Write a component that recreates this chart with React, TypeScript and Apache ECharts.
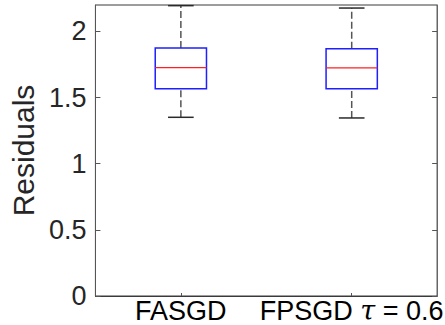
import React, { useEffect, useRef } from "react";
import * as echarts from "echarts";

const categories = ["FASGD", "FPSGD τ = 0.6"];
const lowerWhisker = [1.351, 1.346];
const q1 = [1.566, 1.566];
const median = [1.727, 1.725];
const q3 = [1.874, 1.869];
const upperWhisker = [2.195, 2.177];
const yTicks = [0, 0.5, 1, 1.5, 2];

const FONT = "'Liberation Sans', Arial, Helvetica, sans-serif";

export default function App() {
  const ref = useRef<HTMLDivElement>(null);
  useEffect(() => {
    document.body.style.margin = "0";
    const chart = echarts.init(ref.current!, null, { renderer: "svg" });
    const data = categories.map((_, i) => [i, lowerWhisker[i], q1[i], median[i], q3[i], upperWhisker[i]]);
    chart.setOption({
      animation: false,
      backgroundColor: "#ffffff",
      grid: { left: 91, right: 6, top: 5, bottom: 29, show: true, borderColor: "#3a3a3a", borderWidth: 1, backgroundColor: "transparent" },
      xAxis: {
        type: "category",
        data: categories,
        boundaryGap: true,
        axisLine: { show: true, lineStyle: { color: "#3a3a3a", width: 1 } },
        axisTick: { show: true, inside: true, alignWithLabel: true, length: 3, lineStyle: { color: "#555" } },
        axisLabel: {
          fontSize: 27,
          color: "#000",
          fontFamily: FONT,
          margin: 1,
          interval: 0,
          formatter: (v: string) => v.replace("τ", "{t|τ}"),
          rich: { t: { fontSize: 27, fontStyle: "italic", fontFamily: "'DejaVu Serif', serif", color: "#000" } },
        },
        splitLine: { show: false },
      },
      yAxis: [
        {
          type: "value",
          min: 0,
          max: 2.2,
          interval: 0.5,
          name: "Residuals",
          nameLocation: "middle",
          nameGap: 52,
          nameTextStyle: { fontSize: 30, color: "#262626", fontFamily: FONT },
          axisLine: { show: true, lineStyle: { color: "#555", width: 1 } },
          axisTick: { show: true, inside: true, length: 5, lineStyle: { color: "#555" }, customValues: yTicks },
          axisLabel: {
            fontSize: 27,
            color: "#262626",
            fontFamily: FONT,
            margin: 9,
            customValues: yTicks,
            formatter: (v: number) => String(v),
          },
          splitLine: { show: false },
        },
        {
          type: "value",
          position: "right",
          min: 0,
          max: 2.2,
          interval: 0.5,
          axisLine: { show: true, lineStyle: { color: "#666", width: 1 } },
          axisTick: { show: true, inside: true, length: 5, lineStyle: { color: "#555" }, customValues: yTicks },
          axisLabel: { show: false },
          splitLine: { show: false },
        },
      ],
      series: [
        {
          type: "custom",
          data,
          encode: { x: 0, y: [1, 2, 3, 4, 5] },
          renderItem: (params: any, api: any) => {
            const idx = api.value(0);
            const band = api.size([1, 0])[0];
            const boxW = band * 0.3;
            const capW = band * 0.15;
            const pLo = api.coord([idx, api.value(1)]);
            const pQ1 = api.coord([idx, api.value(2)]);
            const pMed = api.coord([idx, api.value(3)]);
            const pQ3 = api.coord([idx, api.value(4)]);
            const pHi = api.coord([idx, api.value(5)]);
            const x = pMed[0];
            const dash = { stroke: "#555555", lineWidth: 1.5, lineDash: [7, 3] };
            const cap = { stroke: "#2a2a2a", lineWidth: 1.5 };
            return {
              type: "group",
              children: [
                { type: "line", shape: { x1: x, y1: pQ3[1], x2: x, y2: pHi[1] }, style: dash },
                { type: "line", shape: { x1: x, y1: pLo[1], x2: x, y2: pQ1[1] }, style: dash },
                { type: "line", shape: { x1: x - capW / 2, y1: pHi[1], x2: x + capW / 2, y2: pHi[1] }, style: cap },
                { type: "line", shape: { x1: x - capW / 2, y1: pLo[1], x2: x + capW / 2, y2: pLo[1] }, style: cap },
                {
                  type: "rect",
                  shape: { x: x - boxW / 2, y: pQ3[1], width: boxW, height: pQ1[1] - pQ3[1] },
                  style: { fill: "none", stroke: "#1f1fff", lineWidth: 1.5 },
                },
                { type: "line", shape: { x1: x - boxW / 2, y1: pMed[1], x2: x + boxW / 2, y2: pMed[1] }, style: { stroke: "#ff2020", lineWidth: 1.2 } },
              ],
            };
          },
        },
      ],
    });
    return () => chart.dispose();
  }, []);
  return <div ref={ref} style={{ width: 445, height: 325, position: "absolute", left: 0, top: 0 }} />;
}
